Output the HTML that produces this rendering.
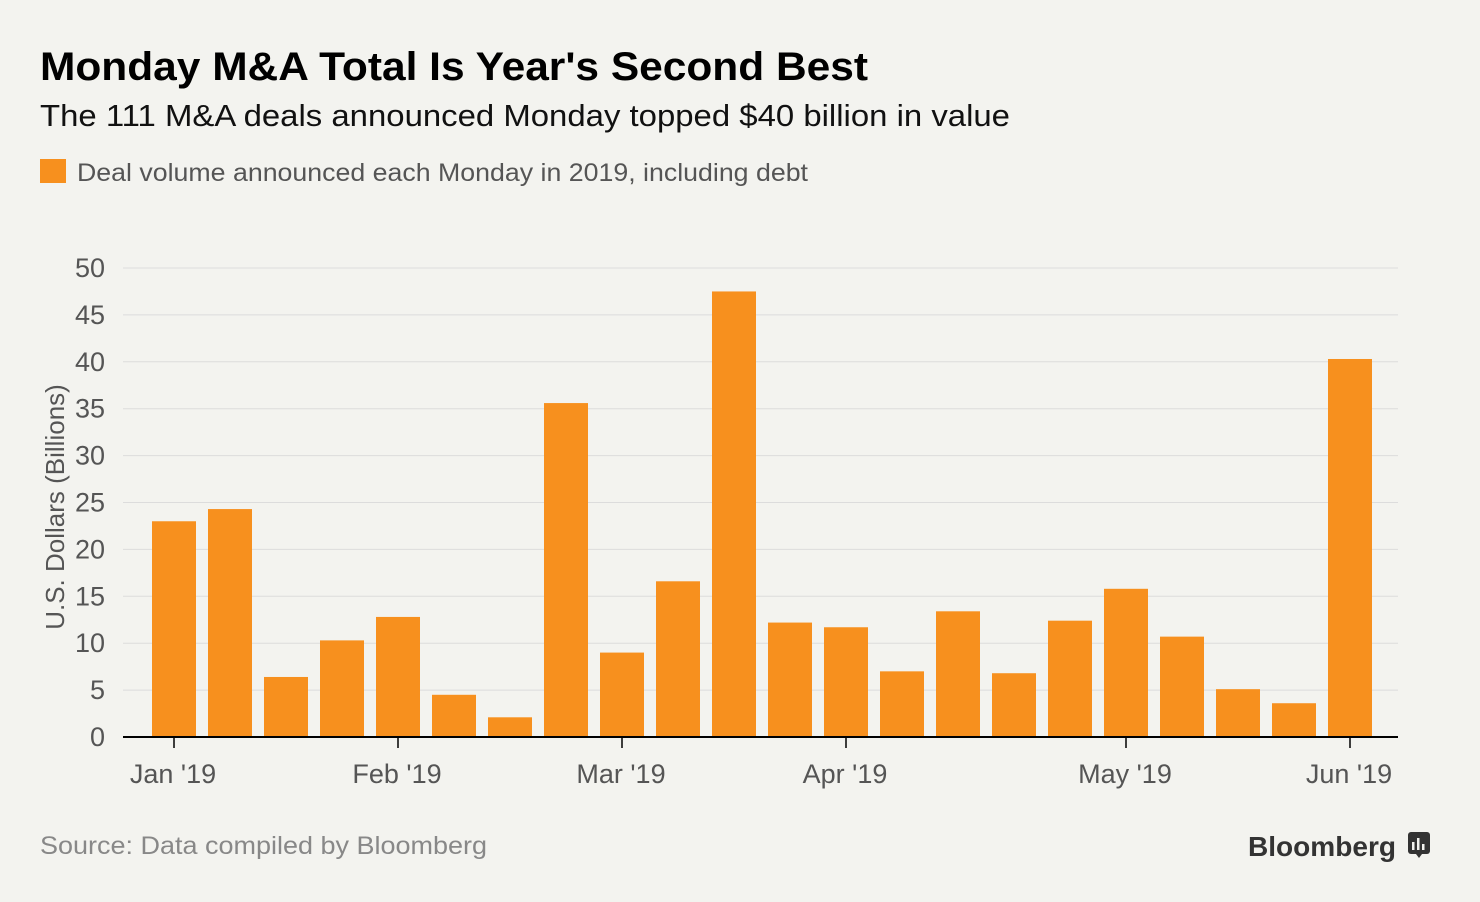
<!DOCTYPE html>
<html><head><meta charset="utf-8"><style>
body{margin:0;background:#f3f3ef;width:1480px;height:902px;overflow:hidden;font-family:"Liberation Sans",sans-serif;}
</style></head><body>
<svg width="1480" height="902" style="position:absolute;left:0;top:0">
<text x="40" y="80" font-size="40" font-weight="bold" fill="#000" textLength="828" lengthAdjust="spacingAndGlyphs">Monday M&amp;A Total Is Year's Second Best</text>
<text x="40" y="126" font-size="31" fill="#111" textLength="970" lengthAdjust="spacingAndGlyphs">The 111 M&amp;A deals announced Monday topped $40 billion in value</text>
<rect x="40" y="159" width="26" height="24" fill="#f7901e"/>
<text x="77" y="181" font-size="25" fill="#555" textLength="731" lengthAdjust="spacingAndGlyphs">Deal volume announced each Monday in 2019, including debt</text>
<g id="grid"></g><g id="bars"></g><g id="axes"></g>
<text transform="translate(64,507) rotate(-90)" text-anchor="middle" font-size="26" fill="#555">U.S. Dollars (Billions)</text>
<text x="40" y="854" font-size="25" fill="#888" textLength="447" lengthAdjust="spacingAndGlyphs">Source: Data compiled by Bloomberg</text>
<text x="1248" y="856" font-size="28" font-weight="bold" fill="#333" textLength="148" lengthAdjust="spacingAndGlyphs">Bloomberg</text>
<g><rect x="1408" y="832" width="22" height="22" rx="3" fill="#333"/><path d="M1416 854 l3 4 l3 -4z" fill="#333"/><rect x="1412" y="842" width="2.5" height="8" fill="#f3f3ef"/><rect x="1417" y="838" width="2.5" height="12" fill="#f3f3ef"/><rect x="1422" y="844" width="2.5" height="6" fill="#f3f3ef"/></g>
</svg>
<script>
const values=[23.0,24.3,6.4,10.3,12.8,4.5,2.1,35.6,9.0,16.6,47.5,12.2,11.7,7.0,13.4,6.8,12.4,15.8,10.7,5.1,3.6,40.3];
const yTicks=[0,5,10,15,20,25,30,35,40,45,50];
const monthLabels=["Jan '19","Feb '19","Mar '19","Apr '19","May '19","Jun '19"];
const monthIdx=[0,4,8,12,17,21];
const NS="http://www.w3.org/2000/svg";
const y0=737,y50=268,x0=174,step=56,bw=44;
function ys(v){return y0-(y0-y50)*v/50;}
function xs(i){return x0+i*step;}
function mk(t,a,p){const e=document.createElementNS(NS,t);for(const k in a)e.setAttribute(k,a[k]);p.appendChild(e);return e;}
const grid=document.getElementById('grid'),bars=document.getElementById('bars'),axes=document.getElementById('axes');
yTicks.forEach(t=>{
 const l=mk('line',{x1:123,x2:1398,y1:ys(t),y2:ys(t),stroke:'#dcdcdc','stroke-width':1},grid);
 
 
 const tx=mk('text',{x:105,y:ys(t)+9,'text-anchor':'end','font-size':27,fill:'#555'},grid);
 tx.textContent=t;
 
 
});
values.forEach((v,i)=>{
 const r=mk('rect',{x:xs(i)-bw/2,y:ys(v),width:bw,height:y0-ys(v),fill:'#f7901e'},bars);
 
 
});
const ax=mk('line',{x1:123,x2:1398,y1:y0,y2:y0,stroke:'#000','stroke-width':2},axes);


monthIdx.forEach((m,k)=>{
 const t=mk('line',{x1:xs(m),x2:xs(m),y1:y0,y2:y0+11,stroke:'#000','stroke-width':1.5},axes);
 
 
 const tx=mk('text',{x:xs(m)-1,y:783,'text-anchor':'middle','font-size':27,fill:'#555'},axes);
 tx.textContent=monthLabels[k];
 
 
});
</script>
</body></html>
